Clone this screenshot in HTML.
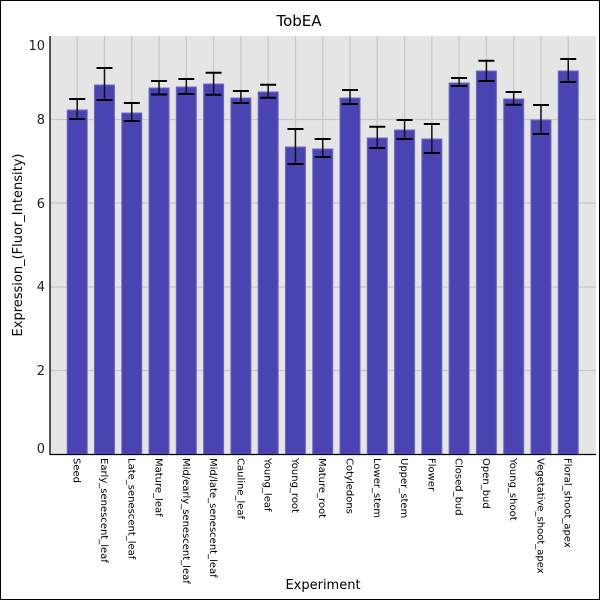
<!DOCTYPE html>
<html><head><style>body{margin:0;background:#fff}svg{display:block;font-family:"DejaVu Sans","Liberation Sans",sans-serif}</style></head>
<body>
<svg width="600" height="600" viewBox="0 0 600 600" xmlns="http://www.w3.org/2000/svg">
<rect x="0.5" y="0.5" width="599" height="599" fill="#fff" stroke="#000"/>
<text x="299" y="26" font-size="15" text-anchor="middle">TobEA</text>
<rect x="50" y="36" width="546" height="418" fill="#e5e5e5"/>
<g stroke="#c8c8c8" stroke-width="1.3" id="grid"></g>
<g id="bars"></g>
<line x1="50" y1="36" x2="50" y2="455" stroke="#000" stroke-width="1.3"/>
<line x1="50" y1="454.5" x2="596" y2="454.5" stroke="#000" stroke-width="1.3"/>
<g font-size="13" text-anchor="end" fill="#222">
<text x="45" y="50">10</text>
<text x="45" y="124">8</text>
<text x="45" y="208">6</text>
<text x="45" y="291">4</text>
<text x="45" y="375">2</text>
<text x="45" y="453">0</text>
</g>
<text transform="translate(22,245) rotate(-90)" font-size="13" text-anchor="middle">Expression_(Fluor_Intensity)</text>
<text x="323" y="589" font-size="13" text-anchor="middle">Experiment</text>
<g id="labels" font-size="10"></g>
<script>
var names=["Seed","Early_senescent_leaf","Late_senescent_leaf","Mature_leaf","Mid/early_senescent_leaf","Mid/late_senescent_leaf","Cauline_leaf","Young_leaf","Young_root","Mature_root","Cotyledons","Lower_stem","Upper_stem","Flower","Closed_bud","Open_bud","Young_shoot","Vegetative_shoot_apex","Floral_shoot_apex"];
var d=[[110,99,119],[85,68,100],[113,103,121],[88,81,94.5],[87,79,94],[84,72.7,94.7],[98,91,103],[92,84.7,97.7],[147,129,164],[149,139,157],[98,90,104],[138,126.7,148],[130,120,139],[139,124,153],[83,78,86],[71,60.7,81],[99,92,104.7],[120,105,134],[71,59,82]];
var ns="http://www.w3.org/2000/svg";
function el(p,t,a){var e=document.createElementNS(ns,t);for(var k in a)e.setAttribute(k,a[k]);p.appendChild(e);return e;}
var g=document.getElementById("grid"),b=document.getElementById("bars"),l=document.getElementById("labels");
[119.5,203,287,370.5].forEach(function(y){el(g,"line",{x1:50,x2:596,y1:y,y2:y});});
for(var i=0;i<19;i++){var cx=77.2+27.28*i;
el(g,"line",{x1:cx,x2:cx,y1:36,y2:454});
el(b,"rect",{x:cx-10,y:d[i][0],width:20,height:454-d[i][0],fill:"#4a44b2",stroke:"#6e68c8","stroke-width":1});
el(b,"line",{x1:cx,x2:cx,y1:d[i][1],y2:d[i][2],stroke:"#111","stroke-width":1.5});
el(b,"line",{x1:cx-8,x2:cx+8,y1:d[i][1],y2:d[i][1],stroke:"#000","stroke-width":2});
el(b,"line",{x1:cx-8,x2:cx+8,y1:d[i][2],y2:d[i][2],stroke:"#000","stroke-width":2});
var t=el(l,"text",{transform:"translate("+(cx-3.5)+",458) rotate(90)"});t.textContent=names[i];}
</script>
</svg>
</body></html>
